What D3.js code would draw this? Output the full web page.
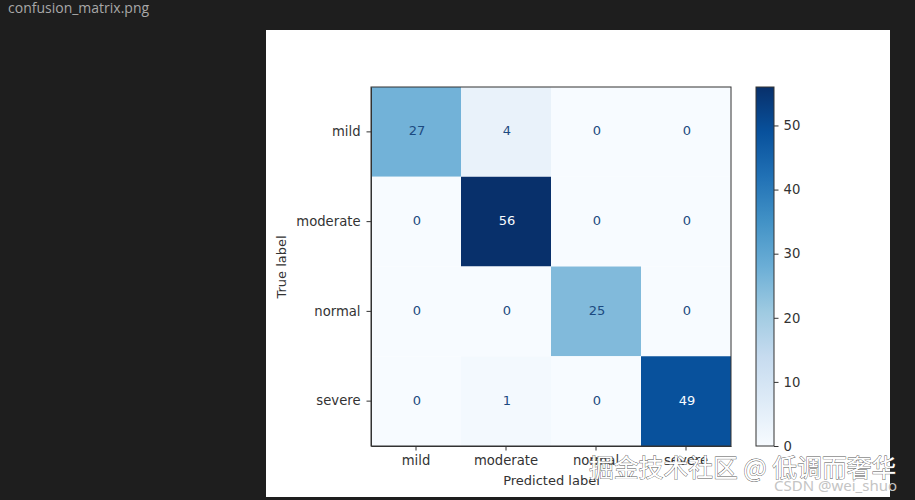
<!DOCTYPE html>
<html>
<head>
<meta charset="utf-8">
<script src="https://cdn.jsdelivr.net/npm/d3@7"></script>
<style>
  html, body { margin: 0; padding: 0; background: #1e1e1e; overflow: hidden; }
  text { font-family: "DejaVu Sans", sans-serif; }
</style>
</head>
<body>
<div id="chart"></div>
<script>
var labels = ["mild", "moderate", "normal", "severe"];
var matrix = [
  [27, 4, 0, 0],
  [0, 56, 0, 0],
  [0, 0, 25, 0],
  [0, 1, 0, 49]
];
var colorTicks = [0, 10, 20, 30, 40, 50];
var blues = ["#f7fbff", "#deebf7", "#c6dbef", "#9ecae1", "#6baed6", "#4292c6", "#2171b5", "#08519c", "#08306b"];

var width = 915, height = 500;
var plot = { left: 371, right: 731, top: 87, bottom: 446 };
var bar = { left: 756, right: 774 };
var textColor = "#333";

var svg = d3.select("#chart").append("svg")
  .attr("width", width)
  .attr("height", height)
  .style("display", "block");

// editor tab title and the white image panel
svg.append("text").attr("x", 8).attr("y", 13)
  .attr("font-size", 14).attr("fill", "#a8a8a8")
  .style("font-family", "'Open Sans', sans-serif")
  .text("confusion_matrix.png");
svg.append("rect").attr("x", 266).attr("y", 30)
  .attr("width", 624).attr("height", 467).attr("fill", "#fff");

var x = d3.scaleBand().domain(labels).range([plot.left, plot.right]);
var y = d3.scaleBand().domain(labels).range([plot.top, plot.bottom]);
var maxVal = d3.max(matrix, function(r) { return d3.max(r); });
var color = d3.scaleLinear()
  .domain(blues.map(function(d, i) { return i / (blues.length - 1) * maxVal; }))
  .range(blues);

var cells = [];
matrix.forEach(function(row, i) {
  row.forEach(function(v, j) {
    cells.push({ r: labels[i], c: labels[j], v: v });
  });
});

svg.selectAll("rect.cell").data(cells)
  .enter().append("rect")
  .attr("class", "cell")
  .attr("x", function(d) { return x(d.c); })
  .attr("y", function(d) { return y(d.r); })
  .attr("width", x.bandwidth())
  .attr("height", y.bandwidth())
  .attr("fill", function(d) { return color(d.v); });

svg.selectAll("text.val").data(cells)
  .enter().append("text")
  .attr("class", "val")
  .attr("x", function(d) { return x(d.c) + x.bandwidth() / 2 + 1; })
  .attr("y", function(d) { return y(d.r) + y.bandwidth() / 2 - 1; })
  .attr("text-anchor", "middle")
  .attr("dominant-baseline", "central")
  .attr("font-size", 13)
  .attr("fill", function(d) { return d.v > maxVal / 2 ? "#f7fbff" : "#1c4a80"; })
  .text(function(d) { return d.v; });

function styleAxis(g) {
  g.selectAll("path").attr("stroke", "#333").attr("stroke-width", 1);
  g.selectAll("line").attr("stroke", "#333").attr("stroke-width", 1);
  g.selectAll("text").attr("fill", textColor)
    .style("font-family", "'DejaVu Sans', sans-serif")
    .attr("font-size", 13.2);
}

svg.append("g")
  .attr("transform", "translate(0," + plot.bottom + ")")
  .call(d3.axisBottom(x).tickSize(4.5).tickSizeOuter(0).tickPadding(5))
  .call(styleAxis);

svg.append("g")
  .attr("transform", "translate(" + plot.left + ",0)")
  .call(d3.axisLeft(y).tickSize(4.5).tickSizeOuter(0).tickPadding(6))
  .call(styleAxis);

svg.append("rect")
  .attr("x", plot.left).attr("y", plot.top)
  .attr("width", plot.right - plot.left).attr("height", plot.bottom - plot.top)
  .attr("fill", "none").attr("stroke", "#333");

svg.append("text")
  .attr("x", (plot.left + plot.right) / 2 + 0.5).attr("y", 485)
  .attr("text-anchor", "middle").attr("font-size", 13).attr("fill", textColor)
  .text("Predicted label");

svg.append("text")
  .attr("transform", "translate(286," + ((plot.top + plot.bottom) / 2 + 0.5) + ") rotate(-90)")
  .attr("text-anchor", "middle").attr("font-size", 13).attr("fill", textColor)
  .text("True label");

// colorbar
var cScale = d3.scaleLinear().domain([0, maxVal]).range([plot.bottom, plot.top]);
var defs = svg.append("defs");
var grad = defs.append("linearGradient")
  .attr("id", "blues").attr("x1", 0).attr("x2", 0).attr("y1", 1).attr("y2", 0);
blues.forEach(function(c, i) {
  grad.append("stop").attr("offset", i / (blues.length - 1)).attr("stop-color", c);
});
svg.append("rect")
  .attr("x", bar.left).attr("y", plot.top)
  .attr("width", bar.right - bar.left).attr("height", plot.bottom - plot.top)
  .attr("fill", "url(#blues)").attr("stroke", "#333");

svg.append("g")
  .attr("transform", "translate(" + bar.right + ",0)")
  .call(d3.axisRight(cScale).tickValues(colorTicks).tickSize(4.5).tickPadding(5))
  .call(styleAxis)
  .select("path").remove();

// watermarks over the image
svg.append("text").attr("x", 589).attr("y", 477)
  .attr("font-size", 24.8).attr("fill", "#fff")
  .attr("stroke", "#555").attr("stroke-width", 0.8)
  .attr("paint-order", "stroke")
  .style("font-family", "'Noto Sans CJK SC', sans-serif")
  .text("掘金技术社区 @ 低调而奢华");

svg.append("text").attr("x", 774).attr("y", 491)
  .attr("font-size", 15).attr("fill", "#c4c4c4")
  .style("font-family", "'Noto Sans', sans-serif")
  .text("CSDN @wei_shuo");
</script>
</body>
</html>
